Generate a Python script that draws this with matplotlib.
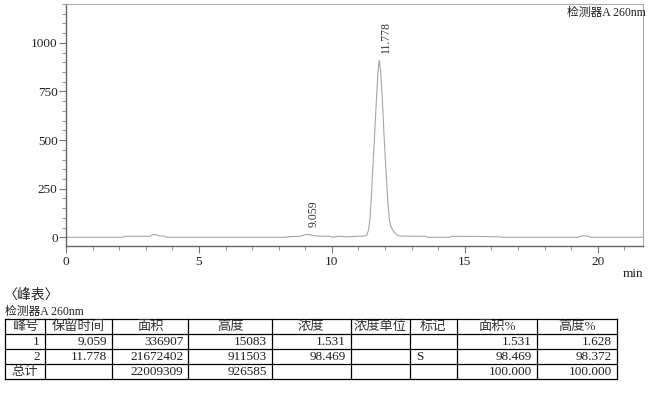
import matplotlib
matplotlib.use("Agg")
import matplotlib.pyplot as plt
from matplotlib.lines import Line2D
from matplotlib.ticker import MultipleLocator

plt.rcParams['font.family'] = ['Liberation Serif', 'Noto Sans CJK SC', 'DejaVu Sans']

# chromatogram trace (min, signal)
time = [0, 2.15, 2.2, 3.15, 3.25, 3.35, 3.45, 3.55, 3.72, 3.78,
        8.3, 8.35, 8.8, 9.0, 9.06, 9.2, 9.35, 9.5, 9.9, 10.05,
        10.2, 10.35, 10.5, 10.7, 11.0, 11.2, 11.32, 11.38, 11.43, 11.48,
        11.53, 11.6, 11.66, 11.73, 11.778, 11.84, 11.91, 11.97, 12.04, 12.1,
        12.16, 12.22, 12.29, 12.37, 12.47, 12.57, 13.5, 13.6, 14.45, 14.5,
        15.5, 16.3, 16.4, 19.25, 19.35, 19.5, 19.65, 19.75, 21.7]
signal = [0, 0, 5, 5, 12, 15, 10, 6, 5, 0,
          0, 3, 5, 13, 15, 12, 8, 6, 5, 0,
          4, 5, 2, 3, 5, 6, 12, 40, 90, 200,
          330, 510, 672, 843, 911, 843, 672, 500, 330, 190,
          90, 55, 37, 22, 10, 6, 5, 0, 0, 5,
          4, 2, 0, 0, 5, 8, 5, 0, 0]

# peak table
headers = ["峰号", "保留时间", "面积", "高度", "浓度", "浓度单位", "标记", "面积%", "高度%"]
peak_no = ["1", "2", "总计"]
ret_time = ["9.059", "11.778", ""]
area = ["336907", "21672402", "22009309"]
height = ["15083", "911503", "926585"]
conc = ["1.531", "98.469", ""]
conc_unit = ["", "", ""]
mark = ["", "S", ""]
area_pct = ["1.531", "98.469", "100.000"]
height_pct = ["1.628", "98.372", "100.000"]

W, H = 668, 396
fig = plt.figure(figsize=(W / 100, H / 100), dpi=100)


def fx(px):
    return px / W


def fy(py):
    return 1 - py / H


ax = fig.add_axes([fx(66), fy(246), fx(643) - fx(66), fy(4) - fy(246)])
ax.plot(time, signal, color="#a6a6a6", lw=0.8)
ax.set_xlim(0, 21.7)
ax.set_ylim(-45, 1200)

ax.xaxis.set_major_locator(MultipleLocator(5))
ax.xaxis.set_minor_locator(MultipleLocator(1))
ax.yaxis.set_major_locator(MultipleLocator(250))
ax.yaxis.set_minor_locator(MultipleLocator(50))
ax.tick_params(which="major", length=5, width=0.8, color="#777777",
               labelsize=9.5, labelcolor="#222222")
ax.tick_params(which="minor", length=3, width=0.8, color="#999999")
ax.tick_params(axis="y", pad=1)
ax.tick_params(axis="x", pad=2.5)
for s in ["left", "bottom"]:
    ax.spines[s].set_color("#666666")
    ax.spines[s].set_linewidth(1.0)
for s in ["top", "right"]:
    ax.spines[s].set_color("#aaaaaa")
    ax.spines[s].set_linewidth(0.8)

# peak labels
for rt, h in zip(ret_time[:2], height[:2]):
    ax.annotate(rt, xy=(float(rt), int(h) / 1000), xytext=(5, 5),
                textcoords="offset points", rotation=90, ha="center",
                va="bottom", fontsize=8.5, color="#333333")

ax.annotate("检测器A 260nm", xy=(1, 1), xycoords="axes fraction",
            xytext=(2, -2), textcoords="offset points", ha="right", va="top",
            fontsize=8.5, color="#222222")
fig.text(fx(643), fy(274), "min", ha="right", va="center", fontsize=9.5,
         color="#222222")

# table
fig.text(fx(4), fy(295), "〈峰表〉", ha="left", va="center", fontsize=10,
         color="#222222")
fig.text(fx(5), fy(312), "检测器A 260nm", ha="left", va="center", fontsize=8.5,
         color="#222222")

col_edges = [5, 45, 111.7, 188.3, 271.7, 350.7, 410, 456.7, 536.7, 616.7]
row_edges = [319.3, 334.3, 349.3, 364.3, 379.3]
for y in row_edges:
    fig.add_artist(Line2D([fx(col_edges[0]), fx(col_edges[-1])], [fy(y), fy(y)],
                          color="black", lw=0.9))
for x in col_edges:
    fig.add_artist(Line2D([fx(x), fx(x)], [fy(row_edges[0]), fy(row_edges[-1])],
                          color="black", lw=0.9))

for j, hd in enumerate(headers):
    fig.text(fx((col_edges[j] + col_edges[j + 1]) / 2),
             fy((row_edges[0] + row_edges[1]) / 2), hd,
             ha="center", va="center", fontsize=9.5, color="#333333")

columns = [peak_no, ret_time, area, height, conc, conc_unit, mark, area_pct, height_pct]
for j, col in enumerate(columns):
    for i, val in enumerate(col):
        yc = fy((row_edges[i + 1] + row_edges[i + 2]) / 2)
        if val == "总计":
            fig.text(fx((col_edges[j] + col_edges[j + 1]) / 2), yc, val,
                     ha="center", va="center", fontsize=9.5, color="#333333")
        elif val == "S":
            fig.text(fx(col_edges[j] + 6), yc, val, ha="left", va="center",
                     fontsize=9.5, color="#222222")
        elif val:
            fig.text(fx(col_edges[j + 1] - 5), yc, val, ha="right", va="center",
                     fontsize=9.5, color="#222222")

fig.savefig("out.png", dpi=100)
